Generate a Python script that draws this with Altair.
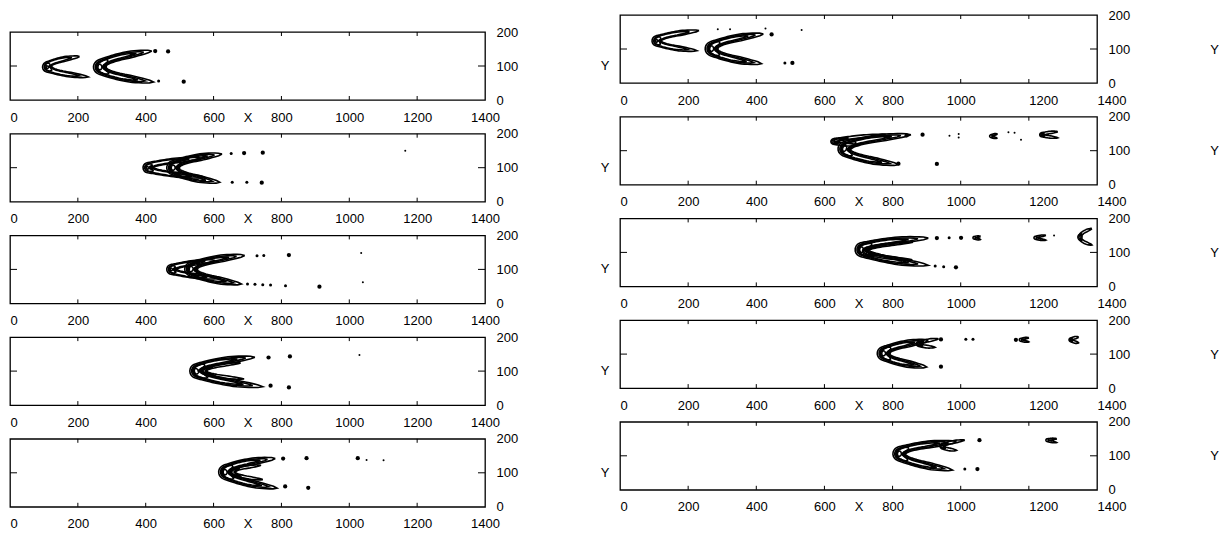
import numpy as np
import pandas as pd
import altair as alt

XTICKS = [0, 200, 400, 600, 800, 1000, 1200, 1400]
YTICKS = [0, 100, 200]
LEFT_PANELS = ["L1", "L2", "L3", "L4", "L5"]
RIGHT_PANELS = ["R1", "R2", "R3", "R4", "R5"]

# chevron-shaped contour groups:
# panel, nose x (left edge), nose y, upper arm end x, y, lower arm end x, y, size class
CHEVRONS = [
    ("L1", 96, 97, 205, 128, 231, 68, "M"),
    ("L1", 246, 97, 418, 144, 423, 53, "L"),
    ("L2", 392, 100, 565, 128, 575, 72, "M"),
    ("L2", 462, 100, 625, 140, 618, 57, "L"),
    ("L3", 462, 100, 605, 126, 612, 74, "M"),
    ("L3", 515, 101, 692, 141, 682, 57, "L"),
    ("L4", 530, 100, 722, 141, 745, 54, "L"),
    ("L4", 565, 100, 680, 124, 690, 77, "S"),
    ("L5", 615, 102, 782, 142, 787, 55, "L"),
    ("L5", 650, 102, 740, 122, 745, 80, "S"),
    ("R1", 94, 124, 232, 154, 226, 95, "M"),
    ("R1", 250, 101, 421, 144, 415, 57, "L"),
    ("R2", 640, 106, 854, 147, 817, 59, "L"),
    ("R2", 620, 128, 780, 148, 705, 116, "S"),
    ("R2", 1085, 143, 1108, 149, 1106, 137, "T"),
    ("R2", 1232, 147, 1285, 156, 1285, 138, "U"),
    ("R3", 690, 108, 905, 142, 905, 62, "L"),
    ("R3", 712, 104, 860, 130, 858, 78, "S"),
    ("R3", 1036, 143, 1058, 147, 1058, 138, "T"),
    ("R3", 1215, 143, 1250, 150, 1250, 136, "T"),
    ("R3", 1344, 145, 1385, 170, 1385, 122, "U"),
    ("R4", 755, 102, 905, 140, 900, 62, "L"),
    ("R4", 870, 130, 935, 145, 925, 120, "S"),
    ("R4", 1172, 142, 1200, 148, 1200, 136, "T"),
    ("R4", 1318, 142, 1346, 150, 1346, 133, "U"),
    ("R5", 801, 106, 988, 141, 976, 58, "L"),
    ("R5", 939, 129, 1012, 146, 988, 116, "S"),
    ("R5", 1250, 146, 1282, 150, 1282, 139, "T"),
]

# isolated small contour blobs: panel, x, y, size class
DOTS = [
    ("L1", 428, 144, "m"), ("L1", 466, 143, "m"), ("L1", 438, 56, "s"), ("L1", 512, 54, "m"),
    ("L2", 652, 142, "s"), ("L2", 690, 143, "m"), ("L2", 745, 144, "m"), ("L2", 655, 57, "s"),
    ("L2", 698, 57, "s"), ("L2", 742, 56, "m"), ("L2", 1165, 150, "t"),
    ("L3", 728, 140, "s"), ("L3", 748, 141, "s"), ("L3", 822, 142, "m"), ("L3", 1035, 148, "t"),
    ("L3", 700, 57, "s"), ("L3", 722, 56, "s"), ("L3", 745, 55, "s"), ("L3", 768, 54, "s"),
    ("L3", 812, 52, "s"), ("L3", 912, 49, "m"), ("L3", 1040, 62, "t"),
    ("L4", 762, 140, "m"), ("L4", 825, 143, "m"), ("L4", 1030, 147, "t"), ("L4", 768, 57, "m"),
    ("L4", 822, 52, "m"),
    ("L5", 805, 142, "m"), ("L5", 874, 143, "m"), ("L5", 1025, 143, "m"), ("L5", 1051, 138, "t"),
    ("L5", 1101, 137, "t"), ("L5", 811, 60, "m"), ("L5", 879, 56, "m"),
    ("R1", 287, 158, "t"), ("R1", 323, 158, "t"), ("R1", 427, 160, "t"), ("R1", 445, 143, "m"),
    ("R1", 533, 156, "t"), ("R1", 484, 59, "s"), ("R1", 506, 59, "m"),
    ("R2", 841, 145, "m"), ("R2", 888, 147, "m"), ("R2", 967, 144, "t"), ("R2", 994, 149, "t"),
    ("R2", 994, 139, "t"), ("R2", 1140, 154, "t"), ("R2", 1158, 153, "t"), ("R2", 1177, 132, "t"),
    ("R2", 817, 62, "m"), ("R2", 930, 61, "m"),
    ("R3", 930, 142, "m"), ("R3", 966, 143, "s"), ("R3", 1001, 143, "m"), ("R3", 1274, 150, "t"),
    ("R3", 925, 60, "s"), ("R3", 950, 58, "s"), ("R3", 986, 56, "m"),
    ("R4", 942, 143, "m"), ("R4", 1015, 144, "s"), ("R4", 1036, 144, "s"), ("R4", 1162, 142, "m"),
    ("R4", 942, 63, "m"),
    ("R5", 1055, 146, "m"), ("R5", 1012, 61, "s"), ("R5", 1049, 61, "m"),
]

# style presets: nose half width, arm half width, nested contour levels (t-start, t-end, scale)
PRESET = {
    "L": (19, 10, [(0, 1, 1.0), (0.04, 0.96, 0.72), (0.08, 0.92, 0.45), (0.3, 0.7, 0.55),
                   (0.43, 0.57, 0.3)]),
    "M": (14, 7, [(0, 1, 1.0), (0.06, 0.94, 0.65), (0.35, 0.65, 0.5), (0.45, 0.55, 0.25)]),
    "S": (7, 4, [(0, 1, 1.0), (0.25, 0.75, 0.5)]),
    "T": (4, 2.5, [(0, 1, 1.0)]),
    "U": (6, 3.5, [(0, 1, 1.0), (0.3, 0.7, 0.45)]),
}
DOT_SIZE = {"m": 18, "s": 9, "t": 4}
N = 56

rows = []
for ci, (pid, nx, ny, ux, uy, lx, ly, kind) in enumerate(CHEVRONS):
    nose, arm, levels = PRESET[kind]
    P0 = np.array([ux, uy], float)
    P3 = np.array([lx, ly], float)
    tx, ty = nx + nose, ny
    mx, my = (P0 + P3) / 2
    c = (mx - tx) / 3
    dy = (ty - my) / 3
    h = 0.22 * (uy - ly)
    P1 = np.array([tx - c, ty + h + dy])
    P2 = np.array([tx - c, ty - h + dy])
    for li, (a, b, f) in enumerate(levels):
        t = np.linspace(a, b, N)
        u = 1 - t
        B = ((u ** 3)[:, None] * P0 + (3 * u * u * t)[:, None] * P1
             + (3 * u * t * t)[:, None] * P2 + (t ** 3)[:, None] * P3)
        D = ((3 * u * u)[:, None] * (P1 - P0) + (6 * u * t)[:, None] * (P2 - P1)
             + (3 * t * t)[:, None] * (P3 - P2))
        nrm = np.stack([-D[:, 1], D[:, 0]], 1)
        nrm /= np.linalg.norm(nrm, axis=1)[:, None]
        s = (t - a) / (b - a)
        taper = np.clip(np.minimum(s, 1 - s) / 0.12, 0, 1) ** 0.5
        w = f * (arm + (nose - arm) * np.exp(-((t - 0.5) / 0.12) ** 2)) * taper
        side1 = B + w[:, None] * nrm
        side2 = (B - w[:, None] * nrm)[::-1]
        pts = np.vstack([side1, side2, side1[:1]])
        for k, (px, py) in enumerate(pts):
            rows.append({"panel": pid, "cid": f"{ci}_{li}", "o": k,
                         "x": round(float(px), 1), "y": round(float(py), 1)})
lines_df = pd.DataFrame(rows)
dots_df = pd.DataFrame([{"panel": p, "x": x, "y": y, "s": DOT_SIZE[c]} for p, x, y, c in DOTS])
xt_df = pd.DataFrame({"x": XTICKS[1:-1]})
yt_df = pd.DataFrame({"y": [100]})

H = 68
FONT = "Liberation Sans"


def make_panel(pid, W, right_col):
    xs = alt.Scale(domain=[0, 1400], nice=False)
    ys = alt.Scale(domain=[0, 200], nice=False)
    test = "datum.value == 0 || datum.value >= 1200" if right_col else "datum.value == 0"
    xaxis = alt.Axis(values=XTICKS, format="d", tickSize=0, domain=False, grid=False,
                     labelPadding=17, labelBaseline="middle", labelFlush=False, labelOverlap=False,
                     labelAlign={"condition": {"test": test, "value": "left"}, "value": "center"},
                     title="X", titleX=W * 0.5, titleY=17,
                     titleBaseline="middle", titleAlign="center")
    if right_col:
        yaxis = alt.Axis(orient="right", values=YTICKS, format="d", tickSize=0, domain=False,
                         grid=False, labelPadding=11, labelBaseline="middle", labelAlign="left",
                         labelFlush=False, labelOverlap=False,
                         title="Y", titleAngle=0, titleX=117, titleY=H / 2,
                         titleBaseline="middle", titleAlign="center")
    else:
        yaxis = alt.Axis(orient="right", values=YTICKS, format="d", tickSize=0, domain=False,
                         grid=False, labelPadding=11, labelBaseline="middle", labelAlign="left",
                         labelFlush=False, labelOverlap=False, title=None)
    X = alt.X("x:Q", scale=xs, axis=xaxis)
    Y = alt.Y("y:Q", scale=ys, axis=yaxis)
    filt = f"datum.panel == '{pid}'"
    lines = alt.Chart(lines_df).transform_filter(filt).mark_line(
        color="black", strokeWidth=1.6).encode(x=X, y=Y, detail="cid:N", order="o:Q")
    dots = alt.Chart(dots_df).transform_filter(filt).mark_circle(
        color="black", opacity=1).encode(x=X, y=Y, size=alt.Size("s:Q", scale=None, legend=None))
    top_t = alt.Chart(xt_df).mark_rule(color="black", strokeWidth=1).encode(
        x=X, y=alt.value(0), y2=alt.value(4))
    bot_t = alt.Chart(xt_df).mark_rule(color="black", strokeWidth=1).encode(
        x=X, y=alt.value(H), y2=alt.value(H - 4))
    left_t = alt.Chart(yt_df).mark_rule(color="black", strokeWidth=1).encode(
        y=Y, x=alt.value(0), x2=alt.value(7))
    right_t = alt.Chart(yt_df).mark_rule(color="black", strokeWidth=1).encode(
        y=Y, x=alt.value(W), x2=alt.value(W - 7))
    layers = [lines, dots, top_t, bot_t, left_t, right_t]
    if right_col:
        ylab = alt.Chart(pd.DataFrame({"t": ["Y"]})).mark_text(
            font=FONT, fontSize=13, color="black", align="center", baseline="middle").encode(
            text="t:N", x=alt.value(-15), y=alt.value(51))
        layers.append(ylab)
    return alt.layer(*layers).properties(width=W, height=H)


left_panels = alt.vconcat(*[make_panel(p, 475, False) for p in LEFT_PANELS],
                          spacing=33.7, bounds="flush")
right_panels = alt.vconcat(*[make_panel(p, 477, True) for p in RIGHT_PANELS],
                           spacing=33.7, bounds="flush")
dummy = alt.Chart(pd.DataFrame({"v": [0]})).mark_point(opacity=0, size=1).encode(
    x=alt.value(5), y=alt.value(8)).properties(
    width=10, height=17, view=alt.ViewBackground(stroke="transparent"))
left_col = alt.vconcat(dummy, left_panels, spacing=0, bounds="flush")

chart = alt.hconcat(left_col, right_panels, spacing=81).properties(
    padding={"left": 0, "top": 0, "right": 0, "bottom": 0},
    background="white"
).configure_view(stroke="black", strokeWidth=1.3).configure_axis(
    labelFont=FONT, labelFontSize=13, labelColor="black",
    titleFont=FONT, titleFontSize=13, titleFontWeight="normal", titleColor="black", grid=False
)

chart.save("out.html", embed_options={"renderer": "svg", "actions": False})
